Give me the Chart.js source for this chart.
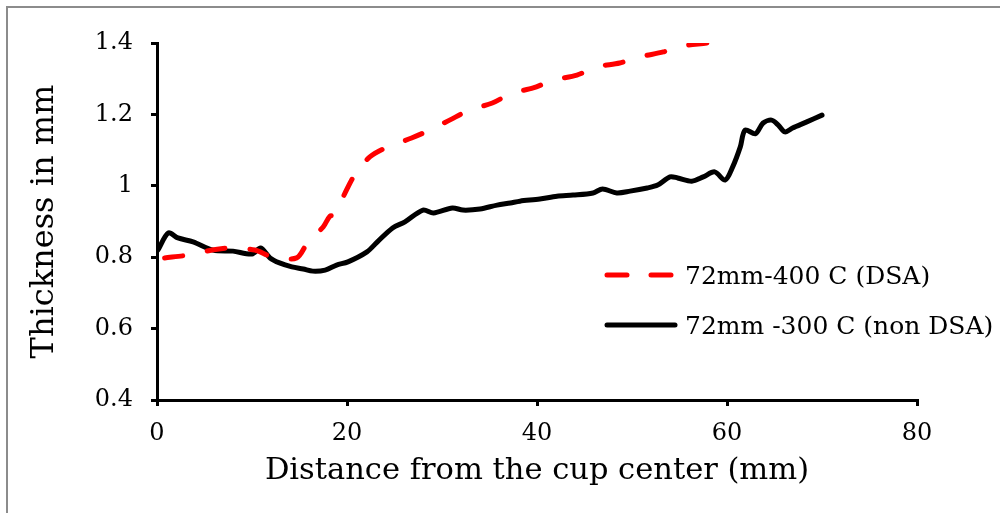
<!DOCTYPE html>
<html lang="en">
<head>
  <meta charset="UTF-8">
  <title>Thickness vs distance</title>
  <style>
    body { margin: 0; background: #fff; }
    .wrap { position: relative; width: 1000px; height: 513px; overflow: hidden; }
    .frame { position: absolute; left: 6px; top: 6px; width: 1100px; height: 600px;
             border-left: 2px solid #8c8c8c; border-top: 2px solid #8c8c8c; }
    canvas { position: absolute; left: 0; top: 0; }
    .legenda { position: absolute; left: 604px; top: 250px; font-family: "DejaVu Serif", serif;
               font-size: 25px; color: #000; white-space: nowrap; }
    .legenda div { height: 50px; display: flex; align-items: center; }
    .legenda svg { margin-right: 7px; }
  </style>
  <script src="https://cdn.jsdelivr.net/npm/chart.js"></script>
</head>
<body>
  <div class="wrap">
    <div class="frame"></div>
    <canvas id="grafico" width="1000" height="513"></canvas>
    <div class="legenda" id="legenda"></div>
  </div>

  <script>
    // 72mm-400 C (DSA)
    const dsaX = [0.8, 3.3, 5.8, 7.9, 10.3, 12.2, 14.7, 15.9, 17.5, 18.2, 18.7, 19.8, 20.8, 22.4, 24.3,
                  26.8, 28.7, 30.8, 32.9, 35.3, 37.4, 39.6, 41.7, 44.2, 46.3, 48.7, 50.8, 53.3, 55.4, 57.9, 59.3, 61];
    const dsaY = [0.798, 0.806, 0.82, 0.826, 0.82, 0.80, 0.798, 0.843, 0.885, 0.915, 0.918, 0.98, 1.03, 1.081, 1.109,
                  1.134, 1.156, 1.184, 1.212, 1.232, 1.26, 1.274, 1.296, 1.31, 1.333, 1.344, 1.361, 1.375, 1.392, 1.40, 1.406, 1.415];

    // 72mm -300 C (non DSA)
    const nonDsaX = [0.1, 1.2, 2.2, 3.8, 5.9, 8.0, 10.0, 10.9, 11.9, 12.9, 14.2, 15.4, 16.4, 17.7, 18.9, 20.1,
                     22.1, 23.2, 24.8, 26.1, 28.0, 29.1, 31.1, 32.2, 34.0, 35.8, 37.2, 38.2, 40.3, 42.1, 43.8,
                     45.9, 46.9, 48.4, 49.8, 51.6, 52.7, 54.0, 54.8, 56.3, 57.5, 58.7, 59.8, 60.6, 61.4, 61.9,
                     63.0, 63.8, 64.7, 65.4, 66.1, 66.9, 68.4, 70.0];
    const nonDsaY = [0.82, 0.868, 0.854, 0.843, 0.82, 0.817, 0.809, 0.826, 0.798, 0.784, 0.773, 0.767, 0.761, 0.764, 0.778, 0.787,
                     0.815, 0.843, 0.882, 0.899, 0.932, 0.924, 0.938, 0.932, 0.935, 0.946, 0.952, 0.957, 0.963, 0.971, 0.974,
                     0.98, 0.991, 0.98, 0.985, 0.994, 1.002, 1.025, 1.022, 1.013, 1.025, 1.039, 1.016, 1.053, 1.109, 1.156,
                     1.146, 1.176, 1.184, 1.17, 1.151, 1.162, 1.179, 1.198];

    const xTicks = [0, 20, 40, 60, 80];
    const yTicks = [0.4, 0.6, 0.8, 1, 1.2, 1.4];

    const pontos = (xs, ys) => xs.map((x, i) => ({ x: x, y: ys[i] }));

    const series = [
      { label: '72mm-400 C (DSA)', data: pontos(dsaX, dsaY), color: '#ff0000', dash: [18, 25] },
      { label: '72mm -300 C (non DSA)', data: pontos(nonDsaX, nonDsaY), color: '#000000', dash: [] }
    ];

    const fonteTick = { family: 'DejaVu Serif', size: 24 };

    new Chart(document.getElementById('grafico'), {
      type: 'line',
      data: {
        datasets: series.map(s => ({
          label: s.label,
          data: s.data,
          borderColor: s.color,
          borderWidth: 5,
          borderDash: s.dash,
          borderCapStyle: 'round',
          borderJoinStyle: 'round',
          pointRadius: 0,
          fill: false,
          tension: 0.3
        }))
      },
      options: {
        responsive: false,
        animation: false,
        layout: { padding: { top: 43, right: 83, left: 0, bottom: 0 } },
        plugins: { legend: { display: false }, tooltip: { enabled: false } },
        scales: {
          x: {
            type: 'linear', min: 0, max: 80,
            afterBuildTicks: ax => { ax.ticks = xTicks.map(v => ({ value: v })); },
            afterFit: ax => { ax.height = 113; },
            ticks: { font: fonteTick, color: '#000', padding: 13, maxRotation: 0 },
            grid: { drawOnChartArea: false, tickLength: 6, color: '#000', lineWidth: 3 },
            border: { color: '#000', width: 3 },
            title: { display: true, text: 'Distance from the cup center (mm)',
                     font: { family: 'DejaVu Serif', size: 30.5 },
                     color: '#000', padding: { top: 0, bottom: 24 } }
          },
          y: {
            min: 0.4, max: 1.4,
            afterBuildTicks: ax => { ax.ticks = yTicks.map(v => ({ value: v })); },
            afterFit: ax => { ax.width = 157; },
            ticks: { font: fonteTick, color: '#000', padding: 18, callback: v => String(v) },
            grid: { drawOnChartArea: false, tickLength: 6, color: '#000', lineWidth: 3 },
            border: { color: '#000', width: 3 },
            title: { display: true, text: 'Thickness in mm',
                     font: { family: 'DejaVu Serif', size: 32 },
                     color: '#000', padding: { top: 25, bottom: 0 } }
          }
        }
      }
    });

    // legenda em HTML, montada a partir das series
    const legenda = document.getElementById('legenda');
    series.forEach(s => {
      const linha = document.createElement('div');
      linha.innerHTML =
        '<svg width="74" height="10"><line x1="3" y1="5" x2="71" y2="5" stroke="' + s.color +
        '" stroke-width="5" stroke-linecap="round" stroke-dasharray="' + (s.dash.length ? '20 24' : 'none') +
        '"/></svg><span>' + s.label + '</span>';
      legenda.appendChild(linha);
    });
  </script>
</body>
</html>
